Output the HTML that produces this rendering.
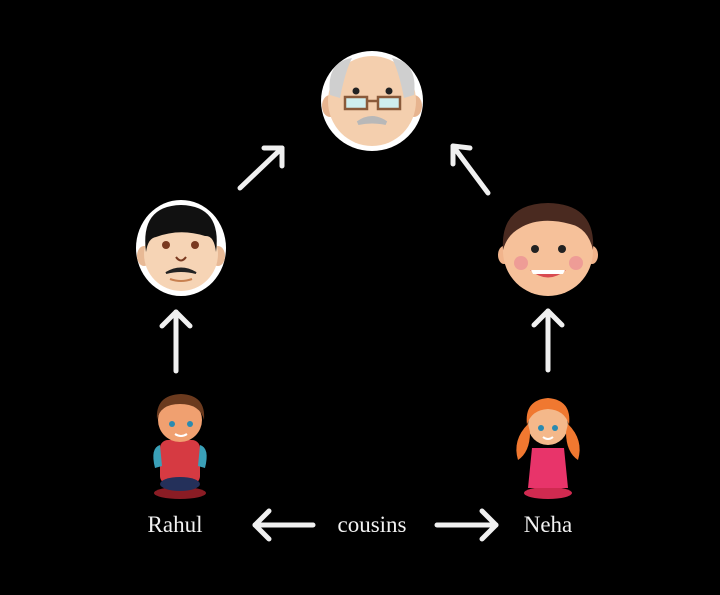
<!DOCTYPE html>
<html><head><meta charset="utf-8"><style>
html,body{margin:0;padding:0;background:#000;width:720px;height:595px;overflow:hidden}
svg{display:block}
text{font-family:"Liberation Serif",serif;fill:#f2f2f2;font-size:23px}
</style></head><body>
<svg width="720" height="595" viewBox="0 0 720 595">
<rect width="720" height="595" fill="#000"/>
<g stroke="#f0f0f0" stroke-width="5" stroke-linecap="round" stroke-linejoin="round" fill="none">
 <line x1="240" y1="188" x2="282" y2="148"/><polyline points="264,148 282,148 282,166"/>
 <line x1="488" y1="193" x2="453" y2="146"/><polyline points="453,164 453,146 470,148"/>
 <line x1="176" y1="371" x2="176" y2="312"/><polyline points="162,326 176,312 190,326"/>
 <line x1="548" y1="370" x2="548" y2="311"/><polyline points="534,325 548,311 562,325"/>
 <line x1="313" y1="525" x2="255" y2="525"/><polyline points="269,511 255,525 269,539"/>
 <line x1="437" y1="525" x2="496" y2="525"/><polyline points="482,511 496,525 482,539"/>
</g>
<text x="175" y="532" text-anchor="middle">Rahul</text>
<text x="372" y="532" text-anchor="middle">cousins</text>
<text x="548" y="532" text-anchor="middle">Neha</text>

<!-- grandpa -->
<g>
 <ellipse cx="372" cy="101" rx="51" ry="50" fill="#fff"/>
 <ellipse cx="330" cy="106" rx="8" ry="11" fill="#e7b48f"/>
 <ellipse cx="414" cy="106" rx="8" ry="11" fill="#e7b48f"/>
 <ellipse cx="372" cy="101" rx="44" ry="45" fill="#f4cfae"/>
 <path d="M330,95 Q326,62 352,58 Q345,72 340,98 Z" fill="#cfcfcf"/>
 <path d="M414,95 Q418,62 392,58 Q399,72 404,98 Z" fill="#cfcfcf"/>
 <circle cx="356" cy="91" r="3.5" fill="#222"/><circle cx="389" cy="91" r="3.5" fill="#222"/>
 <rect x="345" y="97" width="22" height="12" fill="#cfeeee" stroke="#8a5a3a" stroke-width="2.5"/>
 <rect x="378" y="97" width="22" height="12" fill="#cfeeee" stroke="#8a5a3a" stroke-width="2.5"/>
 <line x1="367" y1="101" x2="378" y2="101" stroke="#8a5a3a" stroke-width="2.5"/>
 <path d="M358,123 Q372,113 386,123 Q372,120 358,123 Z" fill="#b8b8b8" stroke="#b8b8b8" stroke-width="4"/>
</g>
<!-- father -->
<g>
 <ellipse cx="181" cy="248" rx="45" ry="48" fill="#fff"/>
 <ellipse cx="144" cy="256" rx="7" ry="10" fill="#e8b995"/>
 <ellipse cx="218" cy="256" rx="7" ry="10" fill="#e8b995"/>
 <ellipse cx="181" cy="254" rx="37" ry="37" fill="#f6d4b5"/>
 <path d="M146,252 Q140,206 181,205 Q222,206 216,252 Q214,235 205,236 Q180,228 156,237 Q148,238 146,252 Z" fill="#111"/>
 <circle cx="166" cy="245" r="4" fill="#7a3a20"/><circle cx="195" cy="245" r="4" fill="#7a3a20"/>
 <path d="M176,257 Q181,264 186,257" stroke="#7a3a20" stroke-width="2" fill="none"/>
 <path d="M166,273 Q181,264 196,273 Q181,269 166,273 Z" fill="#222" stroke="#222" stroke-width="2"/>
 <path d="M170,279 Q181,283 192,279" stroke="#c88050" stroke-width="2" fill="none"/>
</g>
<!-- uncle -->
<g>
 <ellipse cx="504" cy="255" rx="6" ry="9" fill="#f1b48c"/>
 <ellipse cx="592" cy="255" rx="6" ry="9" fill="#f1b48c"/>
 <circle cx="548" cy="251" r="45" fill="#f6c19a"/>
 <path d="M503,250 Q500,204 548,203 Q596,204 593,250 Q588,228 570,224 Q540,216 520,228 Q507,235 503,250 Z" fill="#4a2a20"/>
 <circle cx="535" cy="249" r="4" fill="#222"/><circle cx="562" cy="249" r="4" fill="#222"/>
 <circle cx="521" cy="263" r="7" fill="#ee9c96"/><circle cx="576" cy="263" r="7" fill="#ee9c96"/>
 <path d="M530,270 Q548,285 566,270 Z" fill="#d84a50"/>
 <path d="M531,270 L565,270 L563,274 L533,274 Z" fill="#fff"/>
</g>
<!-- Rahul -->
<g>
 <ellipse cx="180" cy="493" rx="26" ry="6" fill="#8a1c24"/>
 <rect x="160" y="440" width="40" height="44" rx="8" fill="#d63a42"/>
 <path d="M160,445 Q150,448 155,468 L162,466 Z" fill="#3aa0b8"/>
 <path d="M200,445 Q210,448 205,468 L198,466 Z" fill="#3aa0b8"/>
 <ellipse cx="180" cy="484" rx="20" ry="7" fill="#24305a"/>
 <circle cx="180" cy="420" r="22" fill="#f0a070"/>
 <path d="M157,420 Q155,395 181,394 Q206,395 204,420 Q200,404 180,404 Q160,404 157,420 Z" fill="#6b3a1e"/>
 <circle cx="172" cy="424" r="3" fill="#2a8ab0"/><circle cx="190" cy="424" r="3" fill="#2a8ab0"/>
 <path d="M175,434 Q181,438 187,434" stroke="#fff" stroke-width="2" fill="none"/>
</g>
<!-- Neha -->
<g>
 <ellipse cx="548" cy="493" rx="24" ry="6" fill="#d02a50"/>
 <path d="M532,448 L564,448 L568,488 L528,488 Z" fill="#e8346a"/>
 <circle cx="548" cy="425" r="20" fill="#f4b88a"/>
 <path d="M527,425 Q524,400 548,398 Q572,400 569,425 Q565,410 548,409 Q531,410 527,425 Z" fill="#f07830"/>
 <path d="M528,424 Q512,440 518,460 Q530,452 530,432 Z" fill="#f07830"/>
 <path d="M568,424 Q584,440 578,460 Q566,452 566,432 Z" fill="#f07830"/>
 <circle cx="541" cy="428" r="3" fill="#2a8ab0"/><circle cx="555" cy="428" r="3" fill="#2a8ab0"/>
 <path d="M543,437 Q548,441 553,437" stroke="#fff" stroke-width="2" fill="none"/>
</g>
</svg>
</body></html>
